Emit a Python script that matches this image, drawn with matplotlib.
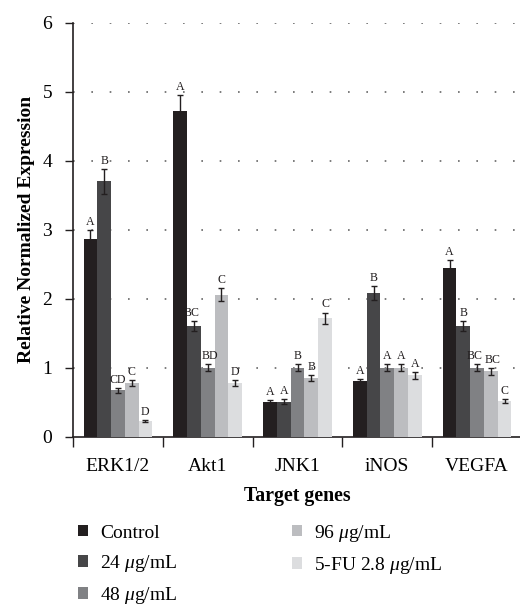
import matplotlib
matplotlib.use("Agg")
import matplotlib.pyplot as plt
import numpy as np
from matplotlib.patches import Patch

genes = ["ERK1/2", "Akt1", "JNK1", "iNOS", "VEGFA"]
series = ["Control", "24 $\\mu$g/mL", "48 $\\mu$g/mL", "96 $\\mu$g/mL", "5-FU 2.8 $\\mu$g/mL"]
colors = ["#231f20", "#464648", "#808184", "#bcbdc0", "#dcdddf"]

control = [2.87, 4.72, 0.51, 0.81, 2.44]
d24 = [3.70, 1.60, 0.51, 2.08, 1.60]
d48 = [0.67, 1.00, 1.00, 1.00, 1.00]
d96 = [0.78, 2.06, 0.85, 1.00, 0.95]
fu = [0.23, 0.78, 1.72, 0.89, 0.52]

err_control = [0.13, 0.23, 0.02, 0.03, 0.12]
err_d24 = [0.18, 0.07, 0.03, 0.10, 0.07]
err_d48 = [0.04, 0.05, 0.05, 0.05, 0.05]
err_d96 = [0.04, 0.10, 0.04, 0.05, 0.05]
err_fu = [0.01, 0.04, 0.08, 0.05, 0.03]

lab_control = ["A", "A", "A", "A", "A"]
lab_d24 = ["B", "BC", "A", "B", "B"]
lab_d48 = ["CD", "BD", "B", "A", "BC"]
lab_d96 = ["C", "C", "B", "A", "BC"]
lab_fu = ["D", "D", "C", "A", "C"]

values = [control, d24, d48, d96, fu]
errors = [err_control, err_d24, err_d48, err_d96, err_fu]
labels = [lab_control, lab_d24, lab_d48, lab_d96, lab_fu]

serif = ["Liberation Serif", "DejaVu Serif"]
plt.rcParams["font.family"] = serif
plt.rcParams["mathtext.fontset"] = "custom"
plt.rcParams["mathtext.it"] = "Liberation Serif:italic"
plt.rcParams["mathtext.rm"] = "Liberation Serif"

fig = plt.figure(figsize=(5.2, 6.05), dpi=100)
ax = fig.add_axes([73/520, 168.3/605, 449/520, (436.7-22.7)/605])

x = np.arange(len(genes))
w = 0.153
for i, (vals, errs, labs, c) in enumerate(zip(values, errors, labels, colors)):
    pos = x - 2*w + i*w
    ax.bar(pos, vals, width=w, color=c, edgecolor="none", zorder=3,
           yerr=errs, error_kw=dict(ecolor="#231f20", elinewidth=1.0, capsize=2.5, capthick=1.0, zorder=4),
           label=series[i])
    for j, (p, v, e, l) in enumerate(zip(pos, vals, errs, labs)):
        dx = 0
        # keep adjacent two-letter labels from colliding
        if len(l) == 2:
            if i + 1 < len(labels) and len(labels[i + 1][j]) == 2:
                dx = -1.5
            elif i > 0 and len(labels[i - 1][j]) == 2:
                dx = 1.5
        ax.annotate(l, (p, v + e + 0.03), xytext=(dx, 0), textcoords="offset points",
                    ha="center", va="bottom", fontsize=8.6, color="#231f20", zorder=5)

ax.set_xlim(-0.5, 4.5)
ax.set_ylim(0, 6)
ax.set_yticks(range(0, 7))
ax.set_xticks(np.arange(-0.5, 5.0, 1.0))
ax.set_xticklabels([])
ax.set_xticks(x, minor=True)
ax.set_xticklabels(genes, minor=True, fontsize=14)
ax.tick_params(axis="x", which="minor", length=0, pad=15)
ax.tick_params(axis="x", which="major", direction="out", length=7, width=1.0, color="#231f20")
ax.tick_params(axis="y", direction="out", length=6, width=1.0, labelsize=14, pad=9, color="#231f20")

for yv in range(1, 7):
    ax.axhline(yv, color="#666666", linestyle=(0, (1, 10)), linewidth=1.2, zorder=1)

for s in ["top", "right"]:
    ax.spines[s].set_visible(False)
for s in ["left", "bottom"]:
    ax.spines[s].set_linewidth(1.2)
    ax.spines[s].set_color("#231f20")

ax.set_ylabel("Relative Normalized Expression", fontsize=14, fontweight="bold", labelpad=5)
ax.set_xlabel("Target genes", fontsize=14.3, fontweight="bold", labelpad=8)

handles = [Patch(facecolor=c, edgecolor="none") for c in colors]
fig.legend(handles, series, loc="upper left", bbox_to_anchor=(60/520, 1 - 505/605), ncol=2,
           frameon=False, fontsize=14, handlelength=0.55, handleheight=0.55, handletextpad=0.6,
           columnspacing=5.9, labelspacing=0.58)

fig.savefig("out.png", dpi=100)
